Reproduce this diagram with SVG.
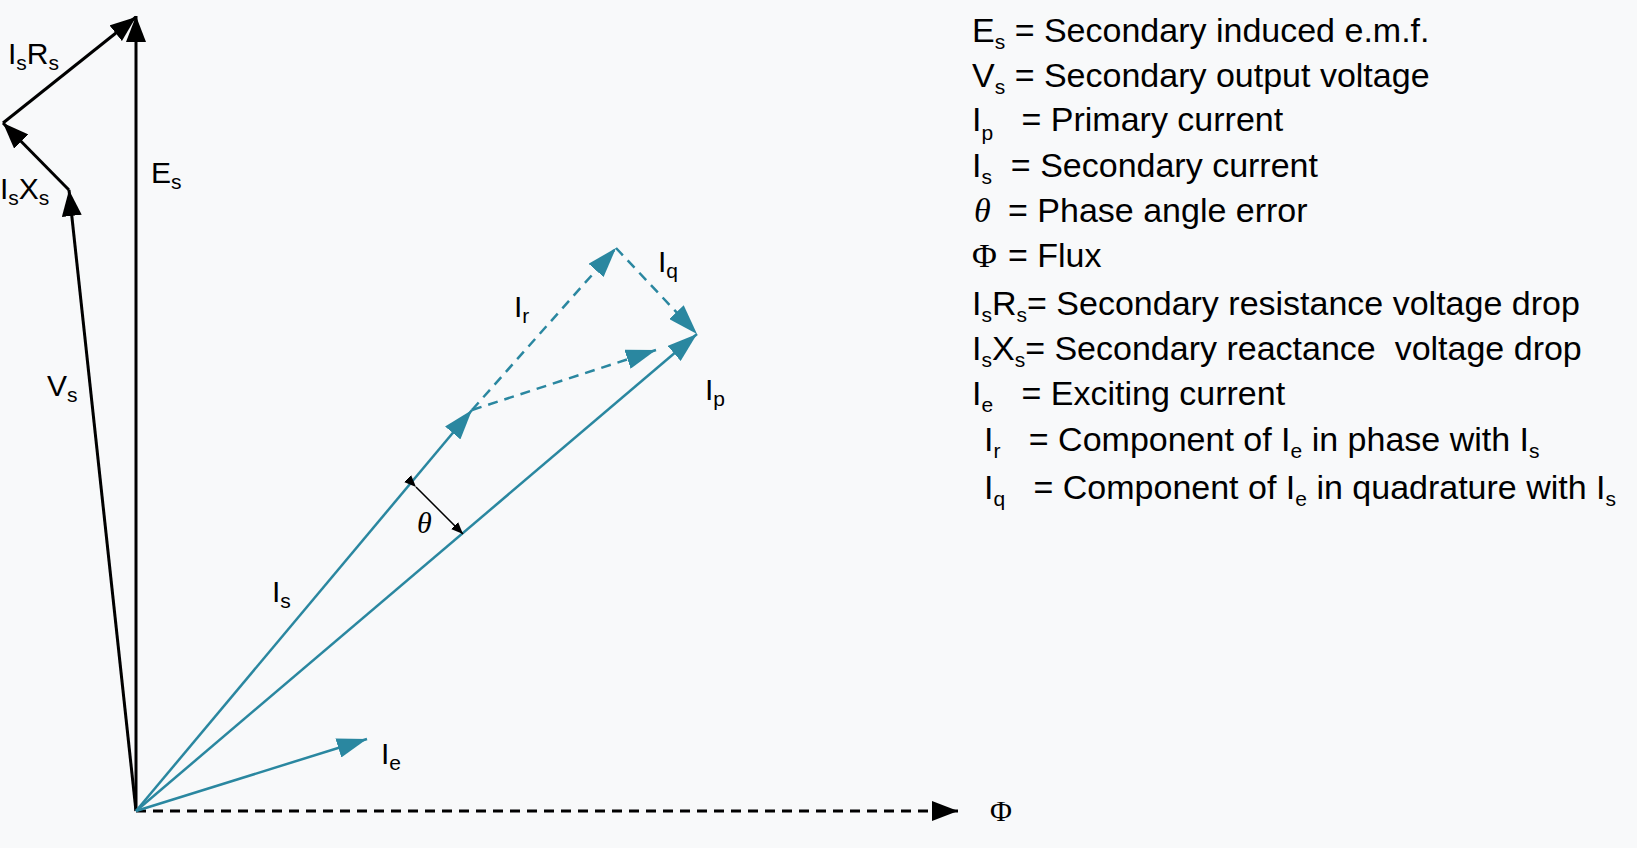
<svg xmlns="http://www.w3.org/2000/svg" width="1637" height="848" viewBox="0 0 1637 848">
<style>
text{font-family:"Liberation Sans",Arial,sans-serif;fill:#000;white-space:pre}
.lab{font-size:30px}
.leg{font-size:34px}
.sub{font-size:21px}
.blk{stroke:#000;stroke-width:3;fill:none}
.tl{stroke:#2a87a0;stroke-width:2.5;fill:none}
.dash{stroke-dasharray:10 7}
.gr{font-family:"Liberation Serif",serif;font-style:italic}
</style>
<defs>
<marker id="ab2" viewBox="0 0 26 20" refX="26" refY="10" markerWidth="26" markerHeight="20" markerUnits="userSpaceOnUse" orient="auto"><path d="M0,0L26,10L0,20z" fill="#000"/></marker>
<marker id="at" viewBox="0 0 30 20" refX="30" refY="10" markerWidth="30" markerHeight="20" markerUnits="userSpaceOnUse" orient="auto"><path d="M0,0L30,10L0,20z" fill="#2a87a0"/></marker>
<marker id="as" viewBox="0 0 12 10" refX="12" refY="5" markerWidth="12" markerHeight="10" markerUnits="userSpaceOnUse" orient="auto"><path d="M0,0L12,5L0,10z" fill="#000"/></marker>
</defs>
<rect width="1637" height="848" fill="#f8f9fa"/>
<g id="connectors">
<line class="blk" x1="136" y1="811" x2="136" y2="16" marker-end="url(#ab2)"/>
<line class="blk" x1="136" y1="811" x2="69" y2="190" marker-end="url(#ab2)"/>
<line class="blk" x1="69" y1="190" x2="3" y2="123" marker-end="url(#ab2)"/>
<line class="blk" x1="3" y1="123" x2="136" y2="17" marker-end="url(#ab2)"/>
<line class="blk dash" x1="136" y1="811" x2="958" y2="811" marker-end="url(#ab2)"/>
<line class="tl" x1="136" y1="811" x2="472" y2="410" marker-end="url(#at)"/>
<line class="tl" x1="136" y1="811" x2="697" y2="334" marker-end="url(#at)"/>
<line class="tl" x1="136" y1="811" x2="367" y2="739" marker-end="url(#at)"/>
<line class="tl dash" x1="472" y1="410" x2="616" y2="248" marker-end="url(#at)"/>
<line class="tl dash" x1="616" y1="248" x2="697" y2="334" marker-end="url(#at)"/>
<line class="tl dash" x1="472" y1="410" x2="656" y2="350" marker-end="url(#at)"/>
<line stroke="#000" stroke-width="1.5" x1="416" y1="487" x2="463" y2="534" marker-start="url(#as)" marker-end="url(#as)"/>
</g>
<g id="labels">
<text class="lab" x="8" y="64">I<tspan class="sub" dy="6">s</tspan><tspan dy="-6">R</tspan><tspan class="sub" dy="6">s</tspan></text>
<text class="lab" x="151" y="183">E<tspan class="sub" dy="6">s</tspan></text>
<text class="lab" x="0" y="199">I<tspan class="sub" dy="6">s</tspan><tspan dy="-6">X</tspan><tspan class="sub" dy="6">s</tspan></text>
<text class="lab" x="47" y="396">V<tspan class="sub" dy="6">s</tspan></text>
<text class="lab" x="272" y="602">I<tspan class="sub" dy="6">s</tspan></text>
<text class="lab" x="514" y="317">I<tspan class="sub" dy="6">r</tspan></text>
<text class="lab" x="658" y="272">I<tspan class="sub" dy="6">q</tspan></text>
<text class="lab" x="705" y="400">I<tspan class="sub" dy="6">p</tspan></text>
<text class="lab" x="381" y="764">I<tspan class="sub" dy="6">e</tspan></text>
<text class="lab gr" x="417" y="533">θ</text>
<text class="lab" x="990" y="821" style="font-family:'Liberation Serif',serif">Φ</text>
</g>
<g id="legend">
<text class="leg" x="972" y="42">E<tspan class="sub" dy="7">s</tspan><tspan dy="-7"> = Secondary induced e.m.f.</tspan></text>
<text class="leg" x="972" y="87">V<tspan class="sub" dy="7">s</tspan><tspan dy="-7"> = Secondary output voltage</tspan></text>
<text class="leg" x="972" y="131">I<tspan class="sub" dy="9">p</tspan><tspan dy="-9">   = Primary current</tspan></text>
<text class="leg" x="972" y="177">I<tspan class="sub" dy="7">s</tspan><tspan dy="-7">  = Secondary current</tspan></text>
<text class="leg gr" x="974" y="222">θ</text><text class="leg" x="1008" y="222">= Phase angle error</text>
<text class="leg" x="972" y="267" style="font-family:'Liberation Serif',serif">Φ</text><text class="leg" x="1008" y="267">= Flux</text>
<text class="leg" x="972" y="315">I<tspan class="sub" dy="7">s</tspan><tspan dy="-7">R</tspan><tspan class="sub" dy="7">s</tspan><tspan dy="-7">= Secondary resistance voltage drop</tspan></text>
<text class="leg" x="972" y="360">I<tspan class="sub" dy="7">s</tspan><tspan dy="-7">X</tspan><tspan class="sub" dy="7">s</tspan><tspan dy="-7">= Secondary reactance  voltage drop</tspan></text>
<text class="leg" x="972" y="405">I<tspan class="sub" dy="7">e</tspan><tspan dy="-7">   = Exciting current</tspan></text>
<text class="leg" x="984" y="451">I<tspan class="sub" dy="7">r</tspan><tspan dy="-7">   = Component of I</tspan><tspan class="sub" dy="7">e</tspan><tspan dy="-7"> in phase with I</tspan><tspan class="sub" dy="7">s</tspan></text>
<text class="leg" x="984" y="499">I<tspan class="sub" dy="7">q</tspan><tspan dy="-7">   = Component of I</tspan><tspan class="sub" dy="7">e</tspan><tspan dy="-7"> in quadrature with I</tspan><tspan class="sub" dy="7">s</tspan></text>
</g>
</svg>
